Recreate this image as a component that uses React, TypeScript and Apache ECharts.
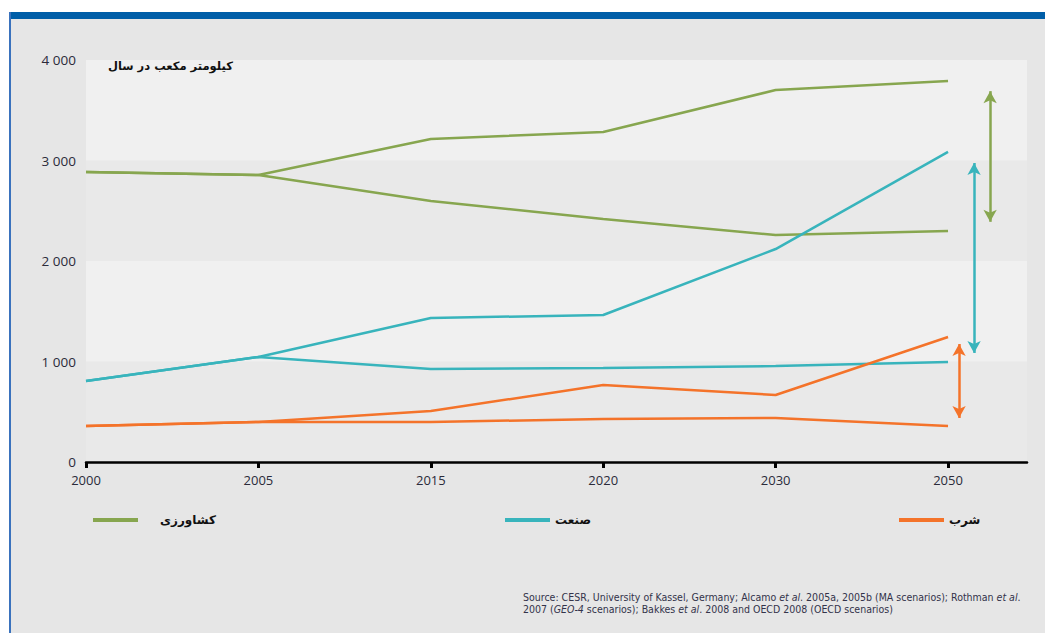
import React, { useEffect, useRef } from "react";
import * as echarts from "echarts";

const years = ["2000", "2005", "2015", "2020", "2030", "2050"];
const yTicks = [0, 1000, 2000, 3000, 4000];

const agriHigh = [2886, 2856, 3214, 3284, 3701, 3791];
const agriLow = [2886, 2856, 2597, 2418, 2259, 2299];
const indHigh = [806, 1045, 1433, 1463, 2119, 3085];
const indLow = [806, 1045, 925, 935, 955, 995];
const domHigh = [358, 398, 507, 766, 667, 1244];
const domLow = [358, 398, 398, 428, 438, 358];

// range arrows: [x position (category index units), top value, bottom value]
const agriArrow = [5.244, 3690, 2390];
const indArrow = [5.151, 2975, 1085];
const domArrow = [5.064, 1174, 438];

const NAME_AGRI = "کشاورزی";
const NAME_IND = "صنعت";
const NAME_DOM = "شرب";
const UNIT = "کیلومتر مکعب در سال";

const GREEN = "#87a64f";
const TEAL = "#38b4bc";
const ORANGE = "#f4732a";

const toPts = (arr: number[]) => arr.map((v, i) => [i, v]);

function fmtThousands(v: number) {
  const s = String(v);
  return s.length > 3 ? s.slice(0, s.length - 3) + " " + s.slice(s.length - 3) : s;
}

export default function App() {
  const ref = useRef<HTMLDivElement>(null);
  useEffect(() => {
    if (!ref.current) return;
    const chart = echarts.init(ref.current, null, { renderer: "svg" });

    const lineSeries = (name: string, data: number[], color: string, arrow?: number[]) => {
      const s: any = {
        name,
        type: "line",
        data: toPts(data),
        symbol: "none",
        lineStyle: { color, width: 2.5 },
        itemStyle: { color },
        silent: true,
      };
      if (arrow) {
        s.markLine = {
          silent: true,
          symbol: ["arrow", "arrow"],
          symbolSize: [10, 12],
          label: { show: false },
          lineStyle: { color, width: 2.5, type: "solid" },
          data: [[{ coord: [arrow[0], arrow[1]] }, { coord: [arrow[0], arrow[2]] }]],
        };
      }
      return s;
    };

    const legend = (name: string, left: number, gap: number) => ({
      data: [name],
      left,
      top: 509,
      icon: "rect",
      itemWidth: 45,
      itemHeight: 4,
      selectedMode: false,
      textStyle: {
        fontFamily: "DejaVu Sans",
        fontWeight: "bold",
        fontSize: 12,
        color: "#111",
        padding: [0, 0, 0, gap],
      },
    });

    chart.setOption({
      animation: false,
      backgroundColor: "#e6e6e6",
      textStyle: { fontFamily: "Open Sans" },
      grid: { left: 86, right: 18, top: 60, bottom: 171 },
      xAxis: {
        type: "value",
        min: 0,
        max: 5.458,
        axisLine: { show: true, lineStyle: { color: "#000", width: 2.5 } },
        axisTick: {
          show: true,
          customValues: years.map((_, i) => i),
          length: 6,
          lineStyle: { color: "#000", width: 3 },
        },
        axisLabel: {
          customValues: years.map((_, i) => i),
          formatter: (v: number) => years[Math.round(v)] ?? "",
          color: "#2b2b3a",
          fontSize: 13,
          margin: 11,
        },
        splitLine: { show: false },
      },
      yAxis: {
        type: "value",
        min: yTicks[0],
        max: yTicks[yTicks.length - 1],
        interval: 1000,
        axisLine: { show: false },
        axisTick: { show: false },
        axisLabel: {
          formatter: (v: number) => fmtThousands(v),
          color: "#2b2b3a",
          fontSize: 13.5,
          margin: 10,
        },
        splitLine: { show: false },
        splitArea: { show: true, areaStyle: { color: ["#e9e9e9", "#f0f0f0"] } },
      },
      legend: [legend(NAME_AGRI, 88, 17), legend(NAME_IND, 500, 0), legend(NAME_DOM, 894, 0)],
      series: [
        lineSeries(NAME_AGRI, agriHigh, GREEN, agriArrow),
        lineSeries(NAME_AGRI, agriLow, GREEN),
        lineSeries(NAME_IND, indHigh, TEAL, indArrow),
        lineSeries(NAME_IND, indLow, TEAL),
        lineSeries(NAME_DOM, domHigh, ORANGE, domArrow),
        lineSeries(NAME_DOM, domLow, ORANGE),
      ],
      graphic: [
        { type: "rect", shape: { x: 0, y: 0, width: 1045, height: 12 }, style: { fill: "#ffffff" }, silent: true },
        { type: "rect", shape: { x: 0, y: 0, width: 9, height: 633 }, style: { fill: "#ffffff" }, silent: true },
        { type: "rect", shape: { x: 9, y: 12, width: 1036, height: 7 }, style: { fill: "#005ea8" }, silent: true },
        { type: "rect", shape: { x: 9, y: 12, width: 2, height: 621 }, style: { fill: "#3a72bd" }, silent: true },
        {
          type: "text",
          x: 108,
          y: 60,
          z: 10,
          silent: true,
          style: {
            text: UNIT,
            fontFamily: "DejaVu Sans",
            fontWeight: "bold",
            fontSize: 11.5,
            fill: "#111",
          },
        },
        {
          type: "text",
          x: 523,
          y: 591,
          silent: true,
          style: {
            text:
              "Source: CESR, University of Kassel, Germany; Alcamo {i|et al}. 2005a, 2005b (MA scenarios); Rothman {i|et al}.\n2007 ({i|GEO-4} scenarios); Bakkes {i|et al}. 2008 and OECD 2008 (OECD scenarios)",
            fontFamily: "DejaVu Sans Condensed",
            fontSize: 10.5,
            lineHeight: 12,
            fill: "#33334a",
            rich: {
              i: { fontStyle: "italic", fontFamily: "DejaVu Sans Condensed", fontSize: 10.5, fill: "#33334a" },
            },
          },
        },
      ],
    });
    return () => chart.dispose();
  }, []);
  return (
    <div
      ref={ref}
      style={{ position: "fixed", left: 0, top: 0, width: 1045, height: 633 }}
    />
  );
}
